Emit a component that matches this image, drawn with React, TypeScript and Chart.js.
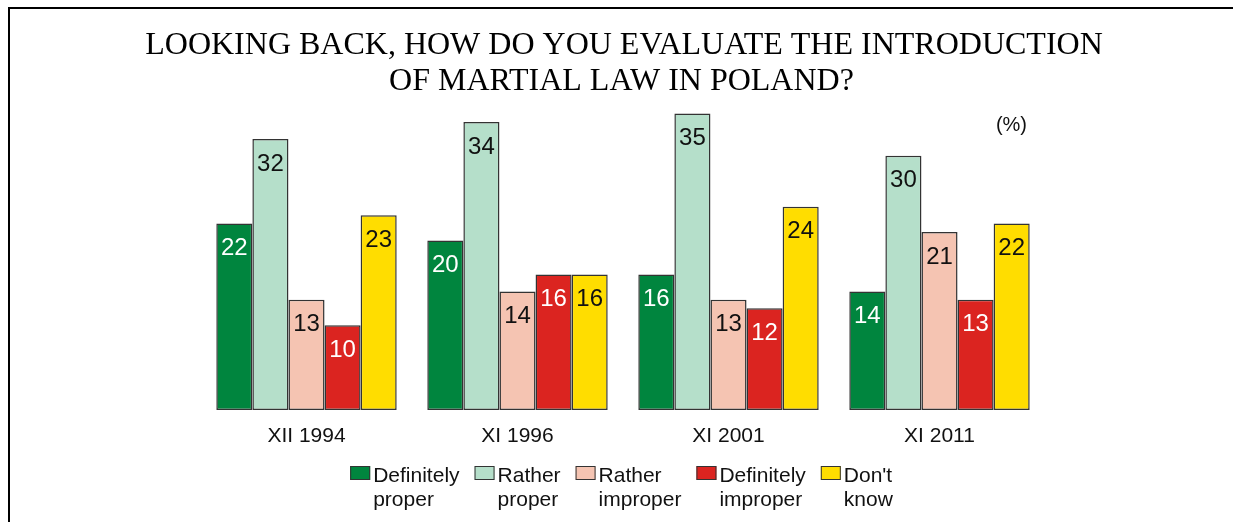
import React, { useEffect, useRef } from "react";
import { Chart, registerables } from "chart.js";

Chart.register(...registerables);

const categories = ["XII 1994", "XI 1996", "XI 2001", "XI 2011"];
const definitelyProper = [22, 20, 16, 14];
const ratherProper = [32, 34, 35, 30];
const ratherImproper = [13, 14, 13, 21];
const definitelyImproper = [10, 16, 12, 13];
const dontKnow = [23, 16, 24, 22];
const seriesValues = [definitelyProper, ratherProper, ratherImproper, definitelyImproper, dontKnow];
const seriesLabels = [
  ["Definitely", "proper"],
  ["Rather", "proper"],
  ["Rather", "improper"],
  ["Definitely", "improper"],
  ["Don't", "know"],
];
const seriesColors = ["#00853e", "#b5dfca", "#f5c4b2", "#db2420", "#ffdd00"];
const valueTextColors = ["#ffffff", "#111111", "#111111", "#ffffff", "#111111"];
const titleLines = ["LOOKING BACK, HOW DO YOU EVALUATE THE INTRODUCTION", "OF MARTIAL LAW IN POLAND?"];
const unitLabel = "(%)";

const SANS = "'Liberation Sans', Arial, sans-serif";
const SERIF = "'Liberation Serif', 'Times New Roman', serif";

const titlePlugin = {
  id: "customTitle",
  afterDraw(chart: any) {
    const ctx = chart.ctx;
    ctx.save();
    ctx.font = `32px ${SERIF}`;
    ctx.fillStyle = "#000000";
    ctx.textAlign = "center";
    ctx.textBaseline = "alphabetic";
    ctx.fillText(titleLines[0], 624, 53.5);
    ctx.fillText(titleLines[1], 621.5, 89.5);
    ctx.restore();
  },
};

const valueLabelPlugin = {
  id: "valueLabels",
  afterDatasetsDraw(chart: any) {
    const ctx = chart.ctx;
    ctx.save();
    ctx.font = `24px ${SANS}`;
    ctx.textAlign = "center";
    ctx.textBaseline = "middle";
    chart.data.datasets.forEach((ds: any, i: number) => {
      const meta = chart.getDatasetMeta(i);
      meta.data.forEach((el: any, j: number) => {
        ctx.fillStyle = valueTextColors[i];
        ctx.fillText(String(ds.data[j]), el.x, el.y + 25);
      });
    });
    ctx.restore();
  },
};

const unitPlugin = {
  id: "unitLabel",
  afterDraw(chart: any) {
    const ctx = chart.ctx;
    ctx.save();
    ctx.font = `20px ${SANS}`;
    ctx.fillStyle = "#111111";
    ctx.textAlign = "right";
    ctx.textBaseline = "alphabetic";
    ctx.fillText(unitLabel, 1027, 131);
    ctx.restore();
  },
};

const customLegendPlugin = {
  id: "customLegend",
  afterDraw(chart: any) {
    const ctx = chart.ctx;
    ctx.save();
    ctx.font = `21px ${SANS}`;
    const gap = 15;
    const textOffset = 23;
    const widths = seriesLabels.map(
      (lines) => textOffset + Math.max(...lines.map((l) => ctx.measureText(l).width))
    );
    const total = widths.reduce((a, b) => a + b, 0) + gap * (widths.length - 1);
    let x = 621.5 - total / 2;
    const y1 = 482;
    const y2 = 506;
    ctx.textBaseline = "alphabetic";
    ctx.textAlign = "left";
    seriesLabels.forEach((lines, i) => {
      ctx.fillStyle = seriesColors[i];
      ctx.fillRect(x, 466, 20, 14);
      ctx.strokeStyle = "#333333";
      ctx.lineWidth = 1;
      ctx.strokeRect(x + 0.5, 466.5, 19, 13);
      ctx.fillStyle = "#111111";
      ctx.fillText(lines[0], x + textOffset, y1);
      ctx.fillText(lines[1], x + textOffset, y2);
      x += widths[i] + gap;
    });
    ctx.restore();
  },
};

export default function App() {
  const canvasRef = useRef<HTMLCanvasElement | null>(null);

  useEffect(() => {
    document.documentElement.style.overflow = "hidden";
    document.body.style.overflow = "hidden";
    const canvas = canvasRef.current;
    if (!canvas) return;
    const chart = new Chart(canvas, {
      type: "bar",
      data: {
        labels: categories,
        datasets: seriesValues.map((vals, i) => ({
          label: seriesLabels[i].join(" "),
          data: vals,
          backgroundColor: seriesColors[i],
          borderColor: "#333333",
          borderWidth: 1.5,
          borderSkipped: false,
          barPercentage: 1,
          categoryPercentage: 0.855,
        })),
      },
      options: {
        animation: false,
        responsive: false,
        devicePixelRatio: 1,
        layout: { padding: { left: 201, right: 188, top: 105, bottom: 52 } },
        plugins: {
          legend: { display: false },
          tooltip: { enabled: false },
          title: { display: false },
        },
        scales: {
          x: {
            grid: { display: false, drawTicks: false },
            border: { display: false },
            ticks: { color: "#111111", font: { family: SANS, size: 21 }, padding: 14 },
            afterFit: (scale: any) => {
              scale.height = 60;
            },
          },
          y: { display: false, min: 0, max: 36 },
        },
      },
      plugins: [titlePlugin, valueLabelPlugin, unitPlugin, customLegendPlugin],
    });
    return () => chart.destroy();
  }, []);

  return (
    <div>
      <div
        style={{
          position: "fixed",
          left: 8,
          top: 7,
          width: 1400,
          height: 700,
          borderTop: "2px solid #000",
          borderLeft: "2px solid #000",
          pointerEvents: "none",
        }}
      />
      <canvas
        ref={canvasRef}
        width={1233}
        height={522}
        style={{ position: "fixed", left: 0, top: 0, width: 1233, height: 522 }}
      />
    </div>
  );
}
